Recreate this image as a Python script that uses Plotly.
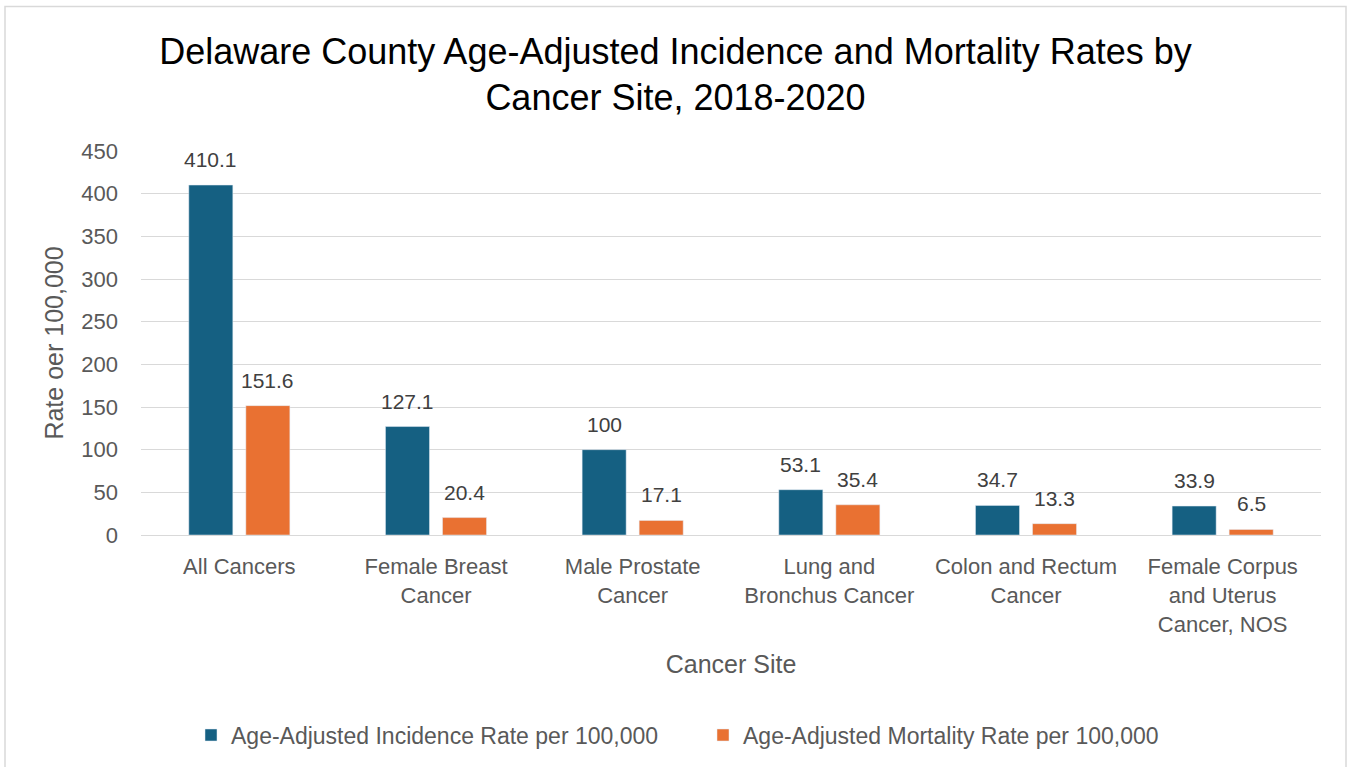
import plotly.graph_objects as go

categories = ["All Cancers", "Female Breast<br>Cancer", "Male Prostate<br>Cancer",
              "Lung and<br>Bronchus Cancer", "Colon and Rectum<br>Cancer",
              "Female Corpus<br>and Uterus<br>Cancer, NOS"]
incidence = [410.1, 127.1, 100, 53.1, 34.7, 33.9]
mortality = [151.6, 20.4, 17.1, 35.4, 13.3, 6.5]
y_ticks = [0, 50, 100, 150, 200, 250, 300, 350, 400, 450]

FONT = "Liberation Sans, Arial, sans-serif"
label_font = dict(family=FONT, size=21, color="#404040")

fig = go.Figure()
fig.add_trace(go.Bar(x=categories, y=incidence, name="Age-Adjusted Incidence Rate per 100,000",
                     marker_color="#156082"))
fig.add_trace(go.Bar(x=categories, y=mortality, name="Age-Adjusted Mortality Rate per 100,000",
                     marker_color="#E97132"))

# data labels above bars
for series, shift in ((incidence, -28.5), (mortality, 28.5)):
    for c, v in zip(categories, series):
        fig.add_annotation(x=c, y=v, text=str(v), showarrow=False, xshift=shift,
                           yanchor="bottom", yshift=12, font=label_font)

fig.update_layout(
    width=1351, height=767,
    margin=dict(l=141, r=30, t=151, b=231),
    paper_bgcolor="white", plot_bgcolor="white",
    barmode="group", bargap=0.42, bargroupgap=0.228,
    font=dict(family=FONT, color="#595959"),
    title=dict(text="Delaware County Age-Adjusted Incidence and Mortality Rates by<br>Cancer Site, 2018-2020",
               x=0.5, xanchor="center", y=0.917, yanchor="top",
               font=dict(family=FONT, size=36, color="#000000")),
    xaxis=dict(title=dict(text="Cancer Site", font=dict(size=25, color="#595959"), standoff=19),
               tickfont=dict(size=22, color="#595959"), showline=True, linecolor="#D9D9D9",
               ticks="", showgrid=False, ticklabelstandoff=12),
    yaxis=dict(title=dict(text="Rate oer 100,000", font=dict(size=25, color="#595959"), standoff=10),
               range=[0, 450], tickvals=y_ticks, tickfont=dict(size=22, color="#595959"),
               showgrid=True, gridcolor="#D9D9D9", gridwidth=1, zeroline=False, ticks="",
               ticklabelstandoff=22),
    legend=dict(orientation="h", x=(191 - 141) / 1180, xanchor="left", y=-0.517, yanchor="middle",
                font=dict(size=23, color="#595959"), itemwidth=30, entrywidth=467,
                traceorder="normal"),
)

fig.add_shape(type="rect", xref="paper", yref="paper",
              x0=(5 - 141) / 1180, x1=(1346 - 141) / 1180,
              y0=-1.0, y1=(536 - 6) / 385,
              line=dict(color="#D9D9D9", width=1.5), fillcolor="rgba(0,0,0,0)", layer="below")

fig.write_html("out.html", config={"displayModeBar": False},
               post_script="document.body.style.margin='0';")
